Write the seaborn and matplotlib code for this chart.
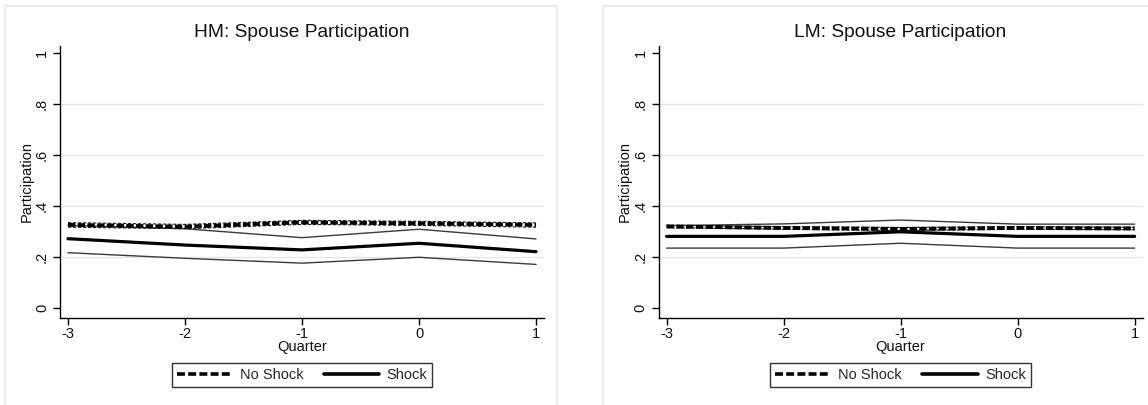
import numpy as np
import pandas as pd
import matplotlib
matplotlib.use("Agg")
import matplotlib.pyplot as plt
import seaborn as sns
from matplotlib.lines import Line2D
from matplotlib.patches import Rectangle

# quarters relative to the shock
quarters = [-3, -2, -1, 0, 1]

# HM panel
hm_noshock    = [0.327, 0.320, 0.337, 0.333, 0.327]
hm_noshock_hi = [0.336, 0.329, 0.345, 0.341, 0.335]
hm_noshock_lo = [0.318, 0.312, 0.329, 0.325, 0.318]
hm_shock      = [0.273, 0.248, 0.229, 0.255, 0.222]
hm_shock_hi   = [0.325, 0.312, 0.277, 0.310, 0.272]
hm_shock_lo   = [0.218, 0.196, 0.177, 0.200, 0.172]

# LM panel
lm_noshock    = [0.321, 0.315, 0.311, 0.315, 0.313]
lm_noshock_hi = [0.326, 0.320, 0.317, 0.320, 0.318]
lm_noshock_lo = [0.316, 0.310, 0.305, 0.310, 0.308]
lm_shock      = [0.282, 0.282, 0.300, 0.282, 0.282]
lm_shock_hi   = [0.324, 0.331, 0.346, 0.330, 0.330]
lm_shock_lo   = [0.236, 0.236, 0.255, 0.236, 0.236]

yticks = [0, 0.2, 0.4, 0.6, 0.8, 1]
ytick_labels = ["0", ".2", ".4", ".6", ".8", "1"]
xticks = [-3, -2, -1, 0, 1]

sns.set_theme(style="white")
plt.rcParams["font.family"] = ["Liberation Sans", "DejaVu Sans"]

W, H = 1148, 405
fig = plt.figure(figsize=(W / 100, H / 100), dpi=100)

# light grey outer frames of the two graph regions
fig.add_artist(Rectangle((5 / W, -0.2), (557 - 5) / W, 1.2 - 5.5 / H,
                         transform=fig.transFigure, fill=False,
                         ec="#ececec", lw=1.6))
fig.add_artist(Rectangle((603 / W, -0.2), 0.5, 1.2 - 5.5 / H,
                         transform=fig.transFigure, fill=False,
                         ec="#ececec", lw=1.6))

DASH = (0, (1.9, 0.6))
THIN_DASH = (0, (3, 1.5))

def panel(left_px, title, ns, ns_hi, ns_lo, sh, sh_hi, sh_lo):
    ax = fig.add_axes([left_px / W, 1 - 317.7 / H, 484 / W, 272 / H])
    for vals in (sh_hi, sh_lo):
        sns.lineplot(x=quarters, y=vals, ax=ax, color="#3a3a3a", lw=1.0)
    for vals in (ns_hi, ns_lo):
        sns.lineplot(x=quarters, y=vals, ax=ax, color="#222222", lw=0.8,
                     linestyle=THIN_DASH)
    sns.lineplot(x=quarters, y=sh, ax=ax, color="black", lw=2.3)
    sns.lineplot(x=quarters, y=ns, ax=ax, color="black", lw=2.8,
                 linestyle=DASH, dash_capstyle="butt")

    ax.set_xlim(-3.068, 1.068)
    ax.set_ylim(-0.037, 1.03)
    ax.set_xticks(xticks)
    ax.set_xticklabels([str(v) for v in xticks])
    ax.set_yticks(yticks)
    ax.set_yticklabels(ytick_labels, rotation=90, va="center")
    ax.yaxis.grid(True, color="#e6e6e6", lw=1.0)
    gl = ax.yaxis.get_gridlines()
    gl[0].set_visible(False)
    gl[-1].set_visible(False)
    ax.set_axisbelow(True)

    sns.despine(ax=ax)
    for s in ("left", "bottom"):
        ax.spines[s].set_color("black")
        ax.spines[s].set_linewidth(1.0)
    ax.tick_params(axis="both", direction="out", length=5, width=1,
                   color="black", labelsize=10.5, labelcolor="#111111")
    ax.tick_params(axis="y", pad=3)
    ax.tick_params(axis="x", pad=2)
    ax.tick_params(left=True, bottom=True)

    ax.set_xlabel("Quarter", fontsize=10.5, labelpad=-1, color="#111111")
    ax.set_ylabel("Participation", fontsize=10.5, labelpad=1, color="#111111")
    ax.set_title(title, fontsize=13.8, pad=6, color="#111111")

    handles = [
        Line2D([], [], color="black", lw=2.6, linestyle=(0, (2.2, 0.9)),
               dash_capstyle="butt"),
        Line2D([], [], color="black", lw=2.6),
    ]
    leg = ax.legend(handles, ["No Shock", "Shock"], loc="center",
                    bbox_to_anchor=(0.5, -0.211), ncol=2, fontsize=10.5,
                    frameon=True, fancybox=False, handlelength=3.8,
                    handletextpad=0.5, columnspacing=1.4, borderpad=0.35,
                    borderaxespad=0)
    leg.get_frame().set_edgecolor("black")
    leg.get_frame().set_linewidth(1.0)
    return ax

panel(60, "HM: Spouse Participation",
      hm_noshock, hm_noshock_hi, hm_noshock_lo,
      hm_shock, hm_shock_hi, hm_shock_lo)
panel(658.6, "LM: Spouse Participation",
      lm_noshock, lm_noshock_hi, lm_noshock_lo,
      lm_shock, lm_shock_hi, lm_shock_lo)

fig.savefig("out.png", dpi=100)
plt.close()
